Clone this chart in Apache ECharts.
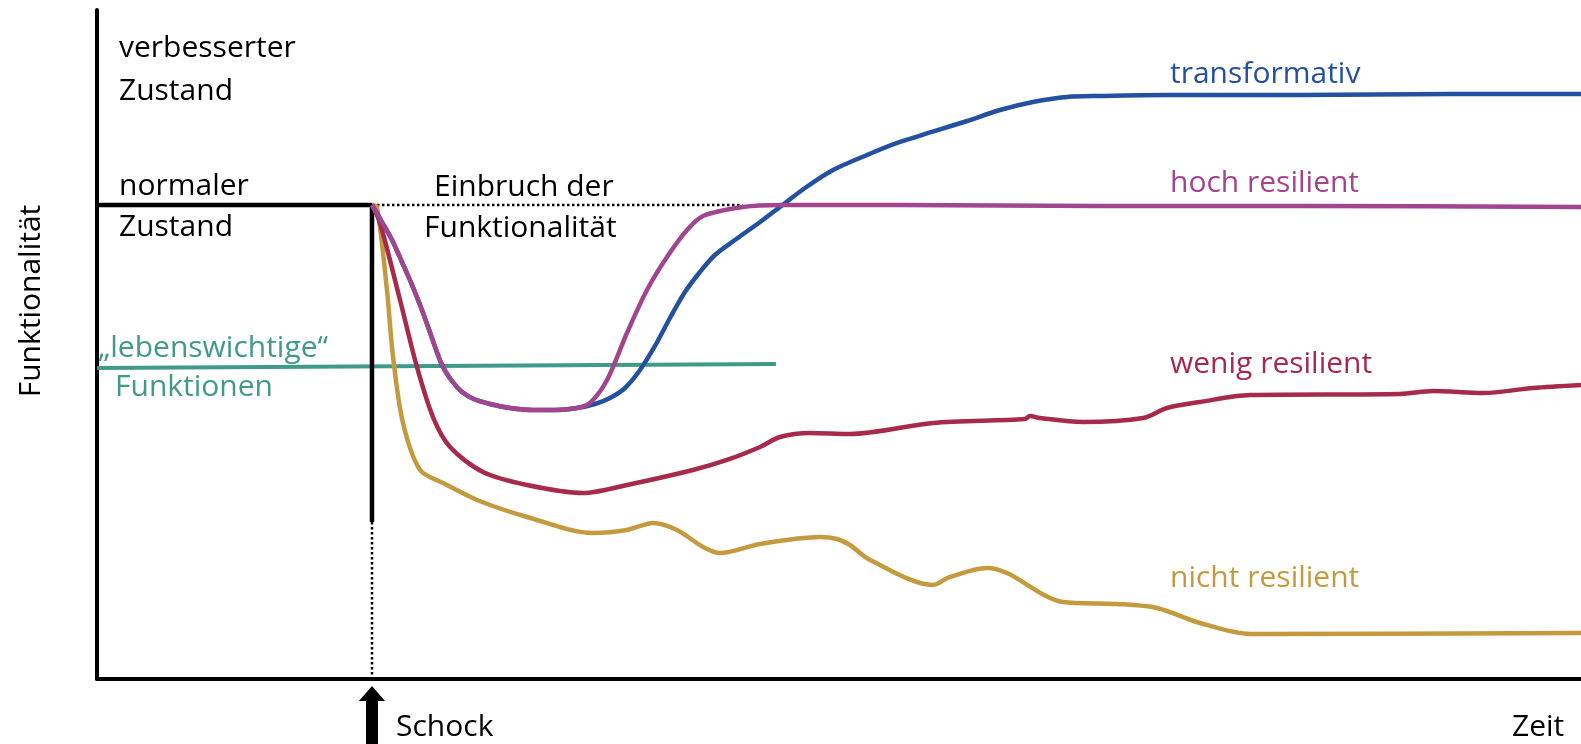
<!DOCTYPE html>
<html>
<head>
<meta charset="utf-8">
<script src="https://cdn.jsdelivr.net/npm/echarts@6/dist/echarts.min.js"></script>
<style>
  html, body { margin: 0; padding: 0; background: #fff; }
  #chart { width: 1581px; height: 744px; }
</style>
</head>
<body>
<div id="chart"></div>
<script>
// time 0..100, functionality 0..100
const shockTime = 18.53
const normalLevel = 70.85

const normalState = [[0, 70.85], [18.53, 70.85], [18.53, 23.47]]
const shockGuide = [[18.53, 23.47], [18.53, 0]]
const dropGuide = [[18.53, 70.85], [43.5, 70.85]]
const vitalFunctions = [[0, 46.49], [45.75, 47.09]]

const transformativ = [
  [18.53, 70.85], [19.2, 68.31], [19.88, 65.62], [20.55, 62.33], [21.23, 58.89],
  [21.9, 55.16], [22.57, 50.97], [23.25, 46.94], [23.92, 44.54], [24.6, 42.9],
  [25.4, 41.85], [26.48, 41.11], [27.83, 40.51], [29.38, 40.21], [30.86, 40.21],
  [32.35, 40.51], [33.56, 41.11], [34.57, 42.0], [35.58, 43.5], [36.59, 46.19],
  [37.6, 49.78], [38.61, 53.96], [39.62, 57.85], [40.63, 60.84], [41.64, 63.38],
  [42.99, 65.62], [44.68, 68.31], [46.02, 70.55], [47.71, 73.39], [49.6, 76.08],
  [51.89, 78.33], [54.11, 80.27], [58.63, 83.41], [60.85, 85.05], [63.07, 86.25],
  [65.36, 87.0], [67.59, 87.15], [72.1, 87.29], [81.06, 87.29], [91.17, 87.44],
  [100, 87.44]
]
const hochResilient = [
  [18.53, 70.85], [19.2, 68.31], [19.88, 65.62], [20.55, 62.33], [21.23, 58.89],
  [21.9, 55.16], [22.57, 50.97], [23.25, 46.94], [23.92, 44.54], [24.6, 42.9],
  [25.4, 41.85], [26.48, 41.11], [27.83, 40.51], [29.38, 40.21], [30.86, 40.21],
  [32.35, 40.51], [33.22, 41.26], [34.37, 44.69], [35.71, 51.72], [37.06, 58.15],
  [38.41, 63.08], [39.76, 67.11], [40.84, 69.21], [43.53, 70.55], [46.02, 70.85],
  [54.11, 70.85], [67.59, 70.7], [81.06, 70.7], [100, 70.55]
]
const wenigResilient = [
  [18.53, 70.85], [19.07, 68.16], [20.42, 56.65], [21.56, 46.64], [22.64, 39.16],
  [23.79, 34.68], [26.01, 30.94], [28.98, 29.0], [32.75, 27.8], [35.71, 29.0],
  [40.16, 31.24], [42.45, 32.74], [44.68, 34.68], [46.02, 36.17], [48.05, 36.77],
  [50.74, 36.62], [56.33, 38.27], [62.53, 38.86], [62.87, 39.31], [63.54, 39.01],
  [66.44, 38.42], [70.49, 39.01], [72.1, 40.51], [74.33, 41.41], [77.7, 42.45],
  [87.8, 42.6], [90.03, 43.05], [93.4, 42.75], [96.77, 43.5], [100, 43.95]
]
const nichtResilient = [
  [18.53, 70.85], [18.87, 70.55], [19.54, 58.15], [19.95, 48.13], [20.62, 38.27],
  [21.77, 31.24], [23.32, 29.3], [25.61, 26.76], [28.98, 24.22], [33.42, 21.82],
  [35.71, 22.27], [37.47, 23.32], [39.08, 22.27], [40.84, 19.73], [41.98, 18.83],
  [44.68, 20.18], [48.72, 21.23], [49.87, 20.93], [50.74, 20.03], [52.09, 17.79],
  [56.33, 14.05], [57.48, 15.25], [59.97, 16.59], [61.32, 15.84], [65.09, 11.51],
  [68.73, 11.21], [71.43, 10.61], [74.33, 8.37], [77.7, 6.73], [100, 6.88]
]

const font = '"Open Sans", "DejaVu Sans", sans-serif'
const fontSize = 30

const colors = {
  transformativ: '#23519f',
  hoch: '#a2458f',
  wenig: '#a82a4b',
  nicht: '#c49a3f',
  vital: '#3f9a8a'
}

function curve(name, data, color) {
  return {
    name: name,
    type: 'line',
    data: data,
    showSymbol: false,
    smooth: 0.3,
    lineStyle: { color: color, width: 4.5 },
    silent: true
  }
}

function guide(data, color, width, type) {
  return {
    type: 'line',
    data: data,
    showSymbol: false,
    lineStyle: { color: color, width: width, type: type },
    silent: true
  }
}

function label(text, x, y, color) {
  return {
    type: 'text',
    x: x,
    y: y,
    style: {
      text: text,
      fill: color || '#000',
      fontFamily: font,
      fontSize: fontSize,
      verticalAlign: 'middle'
    }
  }
}

const chart = echarts.init(document.getElementById('chart'))

chart.setOption({
  animation: false,
  grid: { left: 97, right: 0, top: 10, bottom: 65 },
  xAxis: {
    type: 'value',
    min: 0,
    max: 100,
    axisLine: { lineStyle: { color: '#000', width: 4 } },
    axisTick: { show: false },
    axisLabel: { show: false },
    splitLine: { show: false }
  },
  yAxis: {
    type: 'value',
    min: 0,
    max: 100,
    axisLine: { show: true, lineStyle: { color: '#000', width: 4 } },
    axisTick: { show: false },
    axisLabel: { show: false },
    splitLine: { show: false }
  },
  series: [
    guide(vitalFunctions, colors.vital, 4, 'solid'),
    guide(dropGuide, '#000', 2.5, 'dotted'),
    guide(shockGuide, '#000', 2.5, 'dotted'),
    guide(normalState, '#000', 4.5, 'solid'),
    curve('nicht resilient', nichtResilient, colors.nicht),
    curve('wenig resilient', wenigResilient, colors.wenig),
    curve('transformativ', transformativ, colors.transformativ),
    curve('hoch resilient', hochResilient, colors.hoch)
  ]
})

const shockX = chart.convertToPixel({ gridIndex: 0 }, [shockTime, 0])[0]

chart.setOption({
  graphic: [
    label('verbesserter', 119, 48),
    label('Zustand', 119, 91),
    label('normaler', 119, 186),
    label('Zustand', 119, 227),
    label('Einbruch der', 434, 187),
    label('Funktionalität', 424, 228),
    label('\u201elebenswichtige\u201c', 98, 348, colors.vital),
    label('Funktionen', 115, 387, colors.vital),
    label('transformativ', 1170, 74, colors.transformativ),
    label('hoch resilient', 1170, 183, colors.hoch),
    label('wenig resilient', 1170, 364, colors.wenig),
    label('nicht resilient', 1170, 578, colors.nicht),
    label('Schock', 396, 727),
    label('Zeit', 1512, 727),
    {
      type: 'text',
      x: 31,
      y: 301,
      rotation: Math.PI / 2,
      style: {
        text: 'Funktionalität',
        fill: '#000',
        fontFamily: font,
        fontSize: fontSize,
        align: 'center',
        verticalAlign: 'middle'
      }
    },
    {
      type: 'polygon',
      shape: {
        points: [
          [shockX, 686], [shockX - 13, 701], [shockX - 6, 701], [shockX - 6, 744],
          [shockX + 6, 744], [shockX + 6, 701], [shockX + 13, 701]
        ]
      },
      style: { fill: '#000' }
    }
  ]
})
</script>
</body>
</html>
